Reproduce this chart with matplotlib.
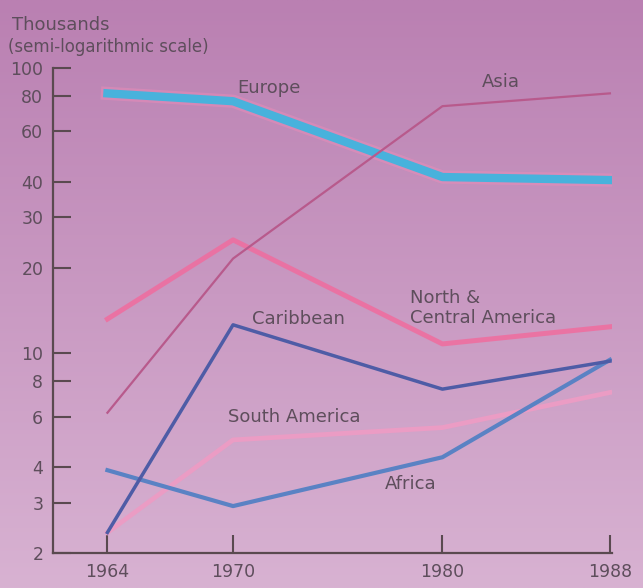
import numpy as np
import matplotlib
matplotlib.use("Agg")
import matplotlib.pyplot as plt

# Immigrants by region of birth, thousands
years = [1964, 1970, 1980, 1988]
europe = [81.5, 76.5, 41.5, 40.5]
asia = [6.2, 21.5, 73.5, 81.5]
north_central = [13.2, 25.0, 10.8, 12.4]
caribbean = [2.36, 12.6, 7.5, 9.4]
africa = [3.9, 2.92, 4.33, 9.5]
south_america = [2.36, 4.98, 5.5, 7.3]

ytick_vals = [2, 3, 4, 6, 8, 10, 20, 30, 40, 60, 80, 100]

plt.rcParams["font.family"] = ["DejaVu Sans"]
text_col = "#5e4e5c"

fig = plt.figure(figsize=(6.43, 5.88), dpi=100)

# pinkish paper background, a bit darker at the top
bg = fig.add_axes([0, 0, 1, 1])
top = np.array([186, 128, 178]) / 255
bottom = np.array([216, 178, 210]) / 255
t = np.linspace(0, 1, 200)[:, None, None]
grad = top * (1 - t) + bottom * t
grad = np.repeat(grad, 2, axis=1)
bg.imshow(grad, aspect="auto", extent=[0, 1, 0, 1], interpolation="bilinear")
bg.axis("off")

ax = fig.add_axes([53 / 643, 1 - 553 / 588, (612 - 53) / 643, (553 - 68) / 588])
ax.set_facecolor("none")
ax.set_yscale("log")
ax.set_ylim(2, 100)
ax.set_xlim(1961.4, 1988.1)

# Europe: thick cyan with a pink fringe
ax.plot(years, europe, color="#f08cb8", lw=9.5, alpha=0.45, solid_joinstyle="round")
ax.plot(years, europe, color="#48b2dc", lw=6, solid_joinstyle="round")
ax.plot(years, north_central, color="#f06c9e", lw=3.6, alpha=0.85)
ax.plot(years, south_america, color="#eb9cc4", lw=3.4)
ax.plot(years, asia, color="#b85a8c", lw=1.6)
ax.plot(years, africa, color="#5a82c4", lw=3)
ax.plot(years, caribbean, color="#4e5ca6", lw=2.5)

lab = dict(color=text_col, fontsize=13)
ax.text(1970.2, 85, "Europe", va="center", ha="left", **lab)
ax.text(1981.9, 89, "Asia", va="center", ha="left", **lab)
ax.text(1970.9, 13.2, "Caribbean", va="center", ha="left", **lab)
ax.text(1978.45, 15.6, "North &", va="center", ha="left", **lab)
ax.text(1978.45, 13.3, "Central America", va="center", ha="left", **lab)
ax.text(1969.75, 6.0, "South America", va="center", ha="left", **lab)
ax.text(1977.25, 3.48, "Africa", va="center", ha="left", **lab)

ax.set_yticks(ytick_vals)
ax.set_yticklabels([str(v) for v in ytick_vals])
ax.yaxis.set_minor_locator(matplotlib.ticker.NullLocator())
ax.set_xticks(years)
ax.set_xticklabels([str(y) for y in years])

for side in ["top", "right"]:
    ax.spines[side].set_visible(False)
for side in ["left", "bottom"]:
    ax.spines[side].set_color("#5a4a50")
    ax.spines[side].set_linewidth(1.6)

ax.tick_params(axis="both", direction="in", length=13, width=1.5,
               color="#5a4a50", labelcolor=text_col, labelsize=12.5, pad=7)

fig.text(12 / 643, 1 - 25 / 588, "Thousands", color=text_col, fontsize=13,
         va="center", ha="left")
fig.text(8 / 643, 1 - 47 / 588, "(semi-logarithmic scale)", color=text_col,
         fontsize=12, va="center", ha="left")

fig.savefig("out.png", dpi=100)
